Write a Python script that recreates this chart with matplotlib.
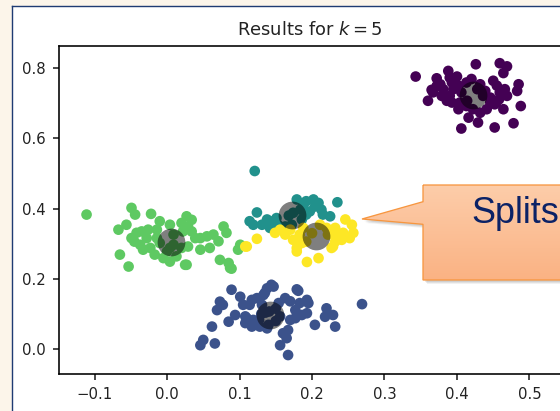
import numpy as np
import matplotlib
matplotlib.use("Agg")
import matplotlib.pyplot as plt
from matplotlib.patches import Rectangle, Polygon
from matplotlib.lines import Line2D
from matplotlib.colors import to_rgb

# ---- k-means result (k = 5): points per cluster ----
purple_x = [0.343, 0.426, 0.459, 0.469, 0.464, 0.388, 0.390, 0.372, 0.400, 0.377,
            0.365, 0.360, 0.367, 0.381, 0.393, 0.395, 0.390, 0.393, 0.402, 0.406,
            0.404, 0.413, 0.420, 0.432, 0.428, 0.439, 0.450, 0.455, 0.459, 0.466,
            0.469, 0.485, 0.483, 0.488, 0.464, 0.452, 0.446, 0.441, 0.432, 0.436,
            0.446, 0.416, 0.429, 0.452, 0.478, 0.406, 0.379, 0.413, 0.422, 0.386,
            0.402, 0.372, 0.414, 0.454, 0.458]
purple_y = [0.776, 0.811, 0.814, 0.805, 0.786, 0.792, 0.773, 0.771, 0.776, 0.754,
            0.738, 0.707, 0.731, 0.740, 0.759, 0.740, 0.721, 0.702, 0.750, 0.731,
            0.702, 0.759, 0.769, 0.754, 0.740, 0.735, 0.764, 0.750, 0.731, 0.740,
            0.721, 0.754, 0.735, 0.692, 0.683, 0.697, 0.702, 0.683, 0.673, 0.721,
            0.716, 0.659, 0.645, 0.631, 0.643, 0.628, 0.721, 0.692, 0.683, 0.707,
            0.683, 0.749, 0.707, 0.702, 0.711]

blue_x = [0.089, 0.101, 0.073, 0.077, 0.069, 0.094, 0.085, 0.108, 0.108, 0.062,
          0.050, 0.046, 0.066, 0.117, 0.119, 0.128, 0.105, 0.117, 0.124, 0.133,
          0.138, 0.131, 0.114, 0.147, 0.135, 0.110, 0.127, 0.138, 0.141, 0.144,
          0.179, 0.163, 0.170, 0.183, 0.193, 0.195, 0.220, 0.218, 0.229, 0.232,
          0.204, 0.177, 0.177, 0.193, 0.170, 0.167, 0.160, 0.165, 0.156, 0.167,
          0.140, 0.136, 0.156, 0.186, 0.154, 0.269, 0.181, 0.150, 0.130, 0.150]
blue_y = [0.169, 0.149, 0.135, 0.126, 0.111, 0.097, 0.078, 0.093, 0.074, 0.064,
          0.026, 0.011, 0.016, 0.064, 0.083, 0.064, 0.126, 0.140, 0.145, 0.154,
          0.173, 0.126, 0.126, 0.178, 0.160, 0.088, 0.083, 0.059, 0.107, 0.183,
          0.170, 0.145, 0.136, 0.131, 0.140, 0.131, 0.116, 0.092, 0.097, 0.064,
          0.069, 0.111, 0.088, 0.102, 0.083, 0.054, 0.045, 0.031, 0.011, -0.017,
          0.069, 0.104, 0.093, 0.097, 0.131, 0.128, 0.166, 0.115, 0.100, 0.080]

teal_x = [0.121, 0.124, 0.114, 0.119, 0.131, 0.142, 0.142, 0.151, 0.153, 0.163,
          0.179, 0.188, 0.192, 0.202, 0.209, 0.213, 0.215, 0.197, 0.192, 0.186,
          0.225, 0.235, 0.174, 0.204, 0.184, 0.172, 0.138, 0.168]
teal_y = [0.507, 0.389, 0.364, 0.354, 0.354, 0.364, 0.345, 0.373, 0.354, 0.349,
          0.426, 0.411, 0.421, 0.426, 0.416, 0.397, 0.383, 0.392, 0.383, 0.369,
          0.378, 0.418, 0.388, 0.406, 0.397, 0.354, 0.369, 0.380]

green_x = [-0.111, -0.049, -0.044, -0.022, -0.010, 0.004, 0.020, 0.027, 0.034, 0.029,
           0.022, -0.014, -0.026, -0.035, -0.042, -0.056, -0.067, -0.049, -0.037, -0.033,
           -0.023, -0.028, -0.014, -0.010, -0.017, -0.005, 0.004, 0.000, 0.013, 0.027,
           0.020, 0.029, 0.039, 0.046, 0.055, 0.064, 0.071, 0.078, 0.082, 0.046,
           0.059, 0.073, 0.085, 0.087, 0.098, 0.101, -0.065, -0.053, 0.009, 0.004,
           0.009, 0.034, 0.089, 0.025, -0.045]
green_y = [0.383, 0.402, 0.383, 0.385, 0.364, 0.354, 0.359, 0.378, 0.368, 0.349,
           0.335, 0.340, 0.340, 0.335, 0.331, 0.354, 0.340, 0.316, 0.297, 0.283,
           0.288, 0.316, 0.316, 0.302, 0.269, 0.259, 0.249, 0.278, 0.264, 0.240,
           0.288, 0.292, 0.316, 0.316, 0.321, 0.326, 0.307, 0.349, 0.331, 0.283,
           0.288, 0.254, 0.245, 0.231, 0.283, 0.297, 0.269, 0.235, 0.326, 0.288,
           0.297, 0.335, 0.229, 0.240, 0.306]

yellow_x = [0.110, 0.124, 0.149, 0.156, 0.163, 0.170, 0.174, 0.179, 0.183, 0.186,
            0.192, 0.188, 0.211, 0.220, 0.222, 0.232, 0.234, 0.241, 0.232, 0.227,
            0.246, 0.255, 0.252, 0.257, 0.243, 0.193, 0.209, 0.179, 0.229, 0.236,
            0.108, 0.200]
yellow_y = [0.292, 0.314, 0.331, 0.340, 0.326, 0.340, 0.311, 0.288, 0.326, 0.302,
            0.306, 0.345, 0.354, 0.345, 0.326, 0.345, 0.326, 0.311, 0.306, 0.288,
            0.369, 0.354, 0.316, 0.331, 0.331, 0.248, 0.259, 0.278, 0.292, 0.316,
            0.292, 0.330]

# cluster centres, in label order 0..4
centre_x = [0.422, 0.142, 0.172, 0.006, 0.206]
centre_y = [0.723, 0.097, 0.383, 0.305, 0.323]

k = 5
x_ticks = [-0.1, 0.0, 0.1, 0.2, 0.3, 0.4, 0.5]
y_ticks = [0.0, 0.2, 0.4, 0.6, 0.8]
callout_text = "Splits"

clusters = [(purple_x, purple_y), (blue_x, blue_y), (teal_x, teal_y),
            (green_x, green_y), (yellow_x, yellow_y)]
xs = np.concatenate([np.array(c[0]) for c in clusters])
ys = np.concatenate([np.array(c[1]) for c in clusters])
labels = np.concatenate([np.full(len(c[0]), i) for i, c in enumerate(clusters)])

# ---- figure ----
DPI = 145
W, H = 560, 411
fig = plt.figure(figsize=(W / DPI, H / DPI), dpi=DPI, facecolor="#FCF5EA")

px = 72.0 / DPI  # one pixel in points

# white slide panel with a navy frame on the left and top
fig.add_artist(Rectangle((12 / W, 0), 1, 1 - 7 / H, transform=fig.transFigure,
                         facecolor="white", edgecolor="none", zorder=-3))
fig.add_artist(Line2D([11.5 / W, 11.5 / W], [0, 1 - 6 / H], transform=fig.transFigure,
                      color="#1F3B73", lw=1.4 * px, zorder=-2))
fig.add_artist(Line2D([11.5 / W, 1], [1 - 6 / H, 1 - 6 / H], transform=fig.transFigure,
                      color="#1F3B73", lw=1.4 * px, zorder=-2))

ax = fig.add_axes([59 / W, 1 - 374 / H, (560.5 - 59) / W, (374 - 46) / H])
ax.scatter(xs, ys, c=labels, cmap="viridis", vmin=0, vmax=k - 1, s=28, linewidths=0)
ax.scatter(centre_x, centre_y, c="black", s=190, alpha=0.5, linewidths=0)
ax.set_xlim(-0.149, 0.5428)
ax.set_ylim(-0.071, 0.863)
ax.set_xticks(x_ticks)
ax.set_yticks(y_ticks)
ax.tick_params(labelsize=7.4, colors="#222222", length=6 * px)
ax.set_title(f"Results for $k = {k}$", fontsize=8.9, color="#222222", pad=5.5)

# ---- callout overlay, drawn in pixel coordinates ----
ov = fig.add_axes([0, 0, 1, 1], zorder=5)
ov.axis("off")

verts = [(423, 185), (620, 185), (620, 280), (423, 280),
         (423, 224.3), (362, 219), (423, 201.7)]

for off, a in [(4, 0.10), (3, 0.14), (2, 0.16)]:
    ov.add_patch(Polygon([(vx + off, vy + off) for vx, vy in verts], closed=True,
                         facecolor="#7a7a7a", edgecolor="none", alpha=a, zorder=1))

body = Polygon(verts, closed=True, facecolor="none", edgecolor="none", zorder=2)
ov.add_patch(body)
top_c = np.array(to_rgb("#FDCDAA"))
bot_c = np.array(to_rgb("#FAB283"))
t = np.linspace(0, 1, 120)[:, None, None]
grad = top_c * (1 - t) + bot_c * t
grad = np.repeat(grad, 2, axis=1)
img = ov.imshow(grad, extent=(355, 620, 281, 184), aspect="auto",
                interpolation="bilinear", zorder=2)
img.set_clip_path(body)
ov.add_patch(Polygon(verts, closed=True, facecolor="none", edgecolor="#F7963F",
                     lw=1.3 * px, zorder=3))
ov.text(471, 223, callout_text, fontsize=17.9, color="#0B2266",
        family=["Liberation Sans", "DejaVu Sans"], ha="left", va="baseline", zorder=4)

ov.set_xlim(0, W)
ov.set_ylim(H, 0)

fig.savefig("out.png", dpi=DPI, facecolor=fig.get_facecolor())
